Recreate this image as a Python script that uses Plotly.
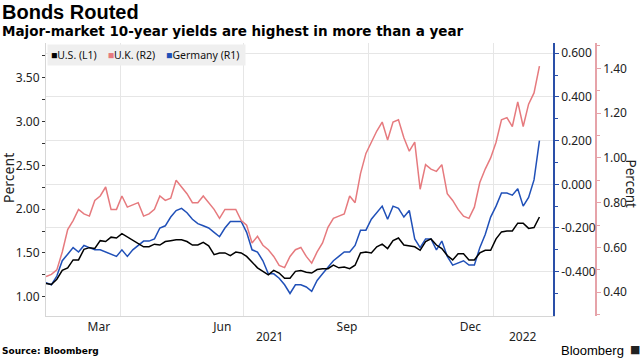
import numpy as np
import pandas as pd
import plotly.graph_objects as go

# ---------------- data ----------------
dates = pd.date_range("2021-02-05", periods=92, freq="4D")

us_yield = [1.15, 1.14, 1.20, 1.30, 1.33, 1.42, 1.42, 1.54, 1.56, 1.55,
            1.64, 1.63, 1.68, 1.67, 1.72, 1.68, 1.64, 1.61, 1.57, 1.57,
            1.60, 1.59, 1.63, 1.64, 1.65, 1.65, 1.63, 1.59, 1.59, 1.62,
            1.58, 1.48, 1.50, 1.50, 1.47, 1.51, 1.50, 1.46, 1.39, 1.33,
            1.29, 1.25, 1.30, 1.27, 1.21, 1.21, 1.29, 1.30, 1.28, 1.27,
            1.31, 1.32, 1.32, 1.36, 1.33, 1.34, 1.32, 1.36, 1.50, 1.51,
            1.50, 1.57, 1.60, 1.55, 1.64, 1.67, 1.59, 1.58, 1.57, 1.53,
            1.63, 1.66, 1.59, 1.55, 1.47, 1.42, 1.49, 1.49, 1.42, 1.42,
            1.50, 1.53, 1.53, 1.66, 1.74, 1.75, 1.75, 1.84, 1.84, 1.78,
            1.79, 1.91]

uk_yield = [0.47, 0.48, 0.50, 0.58, 0.68, 0.72, 0.77, 0.75, 0.74, 0.81,
            0.83, 0.87, 0.77, 0.77, 0.83, 0.78, 0.79, 0.80, 0.74, 0.75,
            0.77, 0.83, 0.81, 0.82, 0.90, 0.87, 0.84, 0.80, 0.80, 0.83,
            0.80, 0.77, 0.73, 0.77, 0.77, 0.77, 0.72, 0.70, 0.62, 0.65,
            0.61, 0.59, 0.56, 0.52, 0.51, 0.56, 0.59, 0.60, 0.56, 0.53,
            0.58, 0.62, 0.69, 0.73, 0.74, 0.75, 0.83, 0.80, 0.93, 1.02,
            1.07, 1.12, 1.16, 1.08, 1.16, 1.17, 1.09, 1.03, 1.07, 0.86,
            0.97, 0.95, 0.94, 0.97, 0.84, 0.81, 0.77, 0.74, 0.73, 0.78,
            0.89, 0.95, 1.00, 1.07, 1.17, 1.18, 1.14, 1.25, 1.14, 1.24,
            1.29, 1.41]

de_yield = [-0.45, -0.46, -0.42, -0.35, -0.32, -0.29, -0.31, -0.28, -0.29, -0.30,
            -0.30, -0.31, -0.32, -0.33, -0.30, -0.33, -0.30, -0.28, -0.26, -0.26,
            -0.25, -0.20, -0.19, -0.15, -0.12, -0.11, -0.13, -0.16, -0.18, -0.19,
            -0.20, -0.22, -0.24, -0.20, -0.17, -0.17, -0.17, -0.22, -0.30, -0.31,
            -0.35, -0.41, -0.41, -0.43, -0.46, -0.50, -0.46, -0.46, -0.47, -0.49,
            -0.44, -0.41, -0.38, -0.35, -0.33, -0.31, -0.31, -0.28, -0.21, -0.21,
            -0.16, -0.13, -0.10, -0.16, -0.10, -0.11, -0.15, -0.12, -0.25, -0.29,
            -0.25, -0.25, -0.30, -0.26, -0.33, -0.37, -0.36, -0.35, -0.37, -0.37,
            -0.29, -0.23, -0.15, -0.10, -0.04, -0.04, -0.05, -0.02, -0.10, -0.06,
            0.02, 0.20]

month_ticks = ["2021-03-16", "2021-06-15", "2021-09-15", "2021-12-15"]
month_labels = ["Mar", "Jun", "Sep", "Dec"]
quarter_lines = ["2021-04-01", "2021-07-01", "2021-10-01", "2022-01-01"]
year_labels = ["2021", "2022"]

us_ticks = [1.0, 1.5, 2.0, 2.5, 3.0, 3.5]
de_ticks = [-0.4, -0.2, 0.0, 0.2, 0.4, 0.6]
uk_ticks = [0.4, 0.6, 0.8, 1.0, 1.2, 1.4]

# ---------------- style ----------------
US_C = "#000000"
UK_C = "#e67a7e"
DE_C = "#2050b8"
UK_AX = "#e6a3a9"
DE_AX = "#2a4fa8"
GRID = "#e6e6e6"
TICKFONT = dict(family="Noto Sans", size=12, color="#222222")

W, H = 640, 359
L, R, T, B = 46, 40, 43, 43
PW, PH = W - L - R, H - T - B


def px(xp):
    return (xp - L) / PW


def py(yp):
    return (H - B - yp) / PH


x_range = [pd.Timestamp("2021-02-05"), pd.Timestamp("2022-02-14")]
year_split = pd.Timestamp("2022-01-01")
year_pos = [x_range[0] + (year_split - x_range[0]) / 2,
            year_split + (x_range[1] - year_split) / 2]

fig = go.Figure()
fig.add_trace(go.Scatter(x=dates, y=uk_yield, yaxis="y2", mode="lines",
                         name="U.K. (R2)", line=dict(color=UK_C, width=1.5),
                         showlegend=False))
fig.add_trace(go.Scatter(x=dates, y=de_yield, yaxis="y", mode="lines",
                         name="Germany (R1)", line=dict(color=DE_C, width=1.5),
                         showlegend=False))
fig.add_trace(go.Scatter(x=dates, y=us_yield, yaxis="y3", mode="lines",
                         name="U.S. (L1)", line=dict(color=US_C, width=1.5),
                         showlegend=False))


def minor_vals(ticks, step):
    lo, hi = ticks[0] - step, ticks[-1] + step
    return [round(v, 4) for v in np.arange(lo, hi + 1e-9, step)]


fig.update_layout(
    width=W, height=H,
    margin=dict(l=L, r=R, t=T, b=B, pad=0),
    paper_bgcolor="white", plot_bgcolor="white",
    showlegend=False,
    xaxis=dict(
        domain=[0, (553 - L) / PW],
        range=x_range,
        tickmode="array", tickvals=month_ticks, ticktext=month_labels,
        ticks="", showgrid=False, zeroline=False,
        showline=True, linecolor="#d6d6d6", linewidth=1,
        tickfont=TICKFONT,
        minor=dict(tickmode="array", tickvals=quarter_lines, showgrid=True,
                   gridcolor=GRID, gridwidth=1, ticks=""),
    ),
    yaxis=dict(  # Germany, R1
        side="right", anchor="x",
        range=[-0.603, 0.647],
        tickmode="array", tickvals=de_ticks,
        ticktext=[f"{v:.3f}" for v in de_ticks],
        ticks="outside", ticklen=4, tickcolor=DE_AX,
        showline=True, linecolor=DE_AX, linewidth=1.5,
        showgrid=True, gridcolor=GRID, zeroline=False,
        tickfont=TICKFONT,
        minor=dict(tickmode="array", tickvals=minor_vals(de_ticks, 0.1),
                   ticks="outside", ticklen=3, tickcolor=DE_AX, showgrid=False),
    ),
    yaxis2=dict(  # U.K., R2
        overlaying="y", side="right", anchor="free",
        position=(596 - L) / PW,
        range=[0.294, 1.513],
        tickmode="array", tickvals=uk_ticks,
        ticktext=[f"{v:.2f}" for v in uk_ticks],
        ticks="outside", ticklen=4, tickcolor=UK_AX,
        showline=True, linecolor=UK_AX, linewidth=1.5,
        showgrid=False, zeroline=False,
        tickfont=TICKFONT,
        minor=dict(tickmode="array", tickvals=minor_vals(uk_ticks, 0.1),
                   ticks="outside", ticklen=3, tickcolor=UK_AX, showgrid=False),
    ),
    yaxis3=dict(  # U.S., L1
        overlaying="y", side="left", anchor="x",
        range=[0.78, 3.896],
        tickmode="array", tickvals=us_ticks,
        ticktext=[f"{v:.2f}" for v in us_ticks],
        ticks="outside", ticklen=3, tickcolor="#333333",
        showline=True, linecolor="#d6d6d6", linewidth=1,
        showgrid=False, zeroline=False,
        tickfont=TICKFONT,
        minor=dict(tickmode="array", tickvals=minor_vals(us_ticks, 0.25),
                   ticks="outside", ticklen=3, tickcolor="#333333", showgrid=False),
    ),
)

ann = []
# Title and subtitle
ann.append(dict(xref="paper", yref="paper", x=px(0), y=py(12.5),
                xanchor="left", yanchor="middle", showarrow=False,
                text="<b>Bonds Routed</b>",
                font=dict(family="Liberation Sans", size=20, color="#000")))
ann.append(dict(xref="paper", yref="paper", x=px(0), y=py(31.5),
                xanchor="left", yanchor="middle", showarrow=False,
                text="<b>Major-market 10-year yields are highest in more than a year</b>",
                font=dict(family="DejaVu Sans", size=13.5, color="#000")))
# Source and brand
ann.append(dict(xref="paper", yref="paper", x=px(0), y=py(351),
                xanchor="left", yanchor="middle", showarrow=False,
                text="<b>Source: Bloomberg</b>",
                font=dict(family="DejaVu Sans", size=9, color="#000")))
ann.append(dict(xref="paper", yref="paper", x=px(626), y=py(350),
                xanchor="right", yanchor="middle", showarrow=False,
                text="Bloomberg",
                font=dict(family="Liberation Sans", size=13, color="#000")))
ann.append(dict(xref="paper", yref="paper", x=px(634.5), y=py(349.5),
                xanchor="center", yanchor="middle", showarrow=False,
                text="\u25a0",
                font=dict(family="DejaVu Sans", size=11, color="#222")))
# Axis titles
ann.append(dict(xref="paper", yref="paper", x=px(8), y=py(178),
                xanchor="center", yanchor="middle", showarrow=False,
                text="Percent", textangle=-90,
                font=dict(family="Noto Sans", size=14, color="#222")))
ann.append(dict(xref="paper", yref="paper", x=px(630.5), y=py(184),
                xanchor="center", yanchor="middle", showarrow=False,
                text="Percent", textangle=90,
                font=dict(family="Noto Sans", size=13.5, color="#222")))
# Year labels
for pos, lab in zip(year_pos, year_labels):
    ann.append(dict(xref="x", yref="paper", x=pos, y=py(336),
                    xanchor="center", yanchor="middle", showarrow=False,
                    text=lab, font=TICKFONT))
# Legend
sq = "\u25a0"
nb = "\u00a0"
legend_text = (f"<span style='color:{US_C}'>{sq}</span>U.S. (L1){nb*4}"
               f"<span style='color:{UK_C}'>{sq}</span>U.K. (R2){nb*4}"
               f"<span style='color:{DE_C}'>{sq}</span>Germany (R1){nb}")
ann.append(dict(xref="paper", yref="paper", x=px(46.5), y=py(44),
                xanchor="left", yanchor="top", showarrow=False,
                text=legend_text, bgcolor="#efefef", borderpad=3,
                font=dict(family="Noto Sans", size=10.5, color="#111")))

fig.update_layout(annotations=ann)
fig.write_html("out.html",
               config={"displayModeBar": False},
               post_script="document.body.style.margin='0';document.body.style.padding='0';")
